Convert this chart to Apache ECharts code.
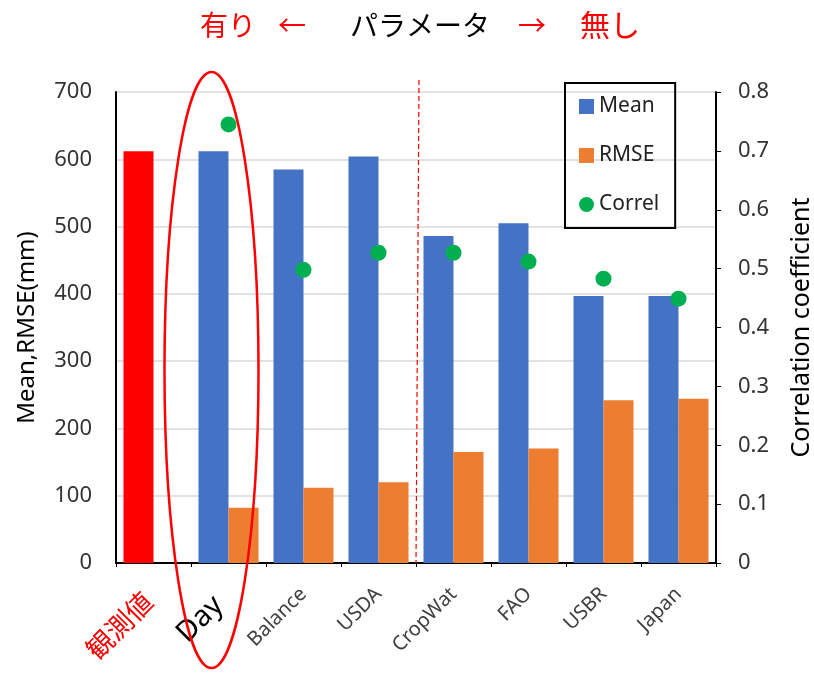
<!DOCTYPE html>
<html>
<head>
<meta charset="utf-8">
<script src="https://cdn.jsdelivr.net/npm/echarts@6/dist/echarts.min.js"></script>
<style>
  html, body { margin: 0; padding: 0; background: #fff; }
  #chart { width: 814px; height: 674px; }
</style>
</head>
<body>
<div id="chart"></div>
<script>
// Evapotranspiration method comparison: mean / RMSE (mm) and correlation
const categories = ['観測値', 'Day', 'Balance', 'USDA', 'CropWat', 'FAO', 'USBR', 'Japan'];
const meanValues = [612, 612, 585, 604, 486, 505, 397, 397];
const rmseValues = [null, 82, 112, 120, 165, 170, 242, 244];
const correlValues = [null, 0.745, 0.498, 0.527, 0.527, 0.512, 0.483, 0.449];
const leftTicks = [0, 700, 100];
const rightTicks = [0, 0.8, 0.1];

const LATIN = "'Noto Sans', 'Open Sans', sans-serif";
const CJK = "'Noto Sans CJK JP', sans-serif";

const chart = echarts.init(document.getElementById('chart'), null, { renderer: 'canvas' });

const meanData = meanValues.map((v, i) =>
  i === 0 ? { value: v, itemStyle: { color: '#FF0000' } } : v);

const labelKey = (v, i) => (i === 0 ? 'obs' : i === 1 ? 'day' : 'nor');

const titleFont = { fontSize: 28, fontFamily: CJK, fontWeight: 'normal' };

const option = {
  backgroundColor: '#ffffff',
  animation: false,
  title: {
    text: '{r1|有り}{a1|←}{k|パラメータ}{a2|→}{r2|無し}',
    left: 195,
    top: 5,
    textStyle: {
      fontWeight: 'normal',
      rich: {
        r1: Object.assign({ color: '#FF0000', padding: [0, 22, 0, 0] }, titleFont),
        a1: Object.assign({ color: '#FF0000', padding: [0, 44, 0, 0] }, titleFont),
        k: Object.assign({ color: '#000000', padding: [0, 28, 0, 0] }, titleFont),
        a2: Object.assign({ color: '#FF0000', padding: [0, 34, 0, 0] }, titleFont),
        r2: Object.assign({ color: '#FF0000' }, titleFont, { fontSize: 30 })
      }
    }
  },
  legend: {
    orient: 'vertical',
    left: 565,
    top: 83,
    padding: [13, 16, 13, 14],
    itemGap: 28,
    itemWidth: 15,
    itemHeight: 15,
    borderColor: '#000',
    borderWidth: 2,
    textStyle: { fontSize: 21, fontFamily: LATIN, color: '#222' },
    data: [
      { name: 'Mean', icon: 'rect' },
      { name: 'RMSE', icon: 'rect' },
      { name: 'Correl', icon: 'circle' }
    ]
  },
  grid: { left: 116, right: 98, top: 92, bottom: 111, containLabel: false, outerBoundsMode: 'none' },
  xAxis: {
    type: 'category',
    data: categories,
    axisLine: { lineStyle: { color: '#000', width: 2 } },
    axisTick: { show: true, length: 4, lineStyle: { color: '#000' } },
    axisLabel: {
      rotate: 45,
      margin: 28,
      interval: 0,
      formatter: (v, i) => '{' + labelKey(v, i) + '|' + v + '}',
      rich: {
        obs: { color: '#FF0000', fontSize: 27, fontFamily: CJK, padding: [0, 8, 0, 0] },
        day: { color: '#000', fontSize: 29, fontFamily: LATIN, padding: [0, 14, 0, 0] },
        nor: { color: '#404040', fontSize: 20, fontFamily: LATIN }
      }
    }
  },
  yAxis: [
    {
      type: 'value',
      min: leftTicks[0], max: leftTicks[1], interval: leftTicks[2],
      name: 'Mean,RMSE(mm)',
      nameLocation: 'middle',
      nameGap: 77,
      nameTextStyle: { fontSize: 24, fontFamily: LATIN, color: '#000' },
      axisLine: { show: true, lineStyle: { color: '#000', width: 2 } },
      axisTick: { show: false },
      axisLabel: { fontSize: 22, fontFamily: LATIN, color: '#333', margin: 24 },
      splitLine: { lineStyle: { color: '#d9d9d9', width: 1.5 } }
    },
    {
      type: 'value',
      min: rightTicks[0], max: rightTicks[1], interval: rightTicks[2],
      name: 'Correlation coefficient',
      nameLocation: 'middle',
      nameGap: 73,
      nameTextStyle: { fontSize: 25, fontFamily: LATIN, color: '#000' },
      axisLine: { show: true, lineStyle: { color: '#000', width: 2 } },
      axisTick: { show: true, length: 5, lineStyle: { color: '#000' } },
      axisLabel: {
        fontSize: 22, fontFamily: LATIN, color: '#333', margin: 22,
        formatter: v => (v === 0 ? '0' : v.toFixed(1))
      },
      splitLine: { show: false }
    }
  ],
  series: [
    {
      name: 'Mean',
      type: 'bar',
      data: meanData,
      itemStyle: { color: '#4472C4' },
      barGap: '0%',
      barCategoryGap: '20%'
    },
    {
      name: 'RMSE',
      type: 'bar',
      data: rmseValues,
      itemStyle: { color: '#ED7D31' }
    },
    {
      name: 'Correl',
      type: 'scatter',
      yAxisIndex: 1,
      data: correlValues,
      symbol: 'circle',
      symbolSize: 16,
      itemStyle: { color: '#00B050', opacity: 1 },
      z: 5
    }
  ]
};

chart.setOption(option);

// Divider between the two parameter groups, and the highlight ring around "Day"
const xUSDA = chart.convertToPixel({ xAxisIndex: 0 }, 'USDA');
const xCrop = chart.convertToPixel({ xAxisIndex: 0 }, 'CropWat');
const xDay = chart.convertToPixel({ xAxisIndex: 0 }, 'Day');
const yZero = chart.convertToPixel({ yAxisIndex: 0 }, 0);
const divX = (xUSDA + xCrop) / 2 + 2;

chart.setOption({
  graphic: [
    {
      type: 'line',
      shape: { x1: divX + 1, y1: 80, x2: divX - 2, y2: yZero },
      style: { stroke: '#FF0000', lineWidth: 1.2, lineDash: [5, 3] },
      z: 10
    },
    {
      type: 'ellipse',
      shape: { cx: xDay - 17, cy: 370, rx: 47, ry: 298 },
      style: { fill: 'none', stroke: '#FF0000', lineWidth: 2.5 },
      z: 10
    }
  ]
});
</script>
</body>
</html>
